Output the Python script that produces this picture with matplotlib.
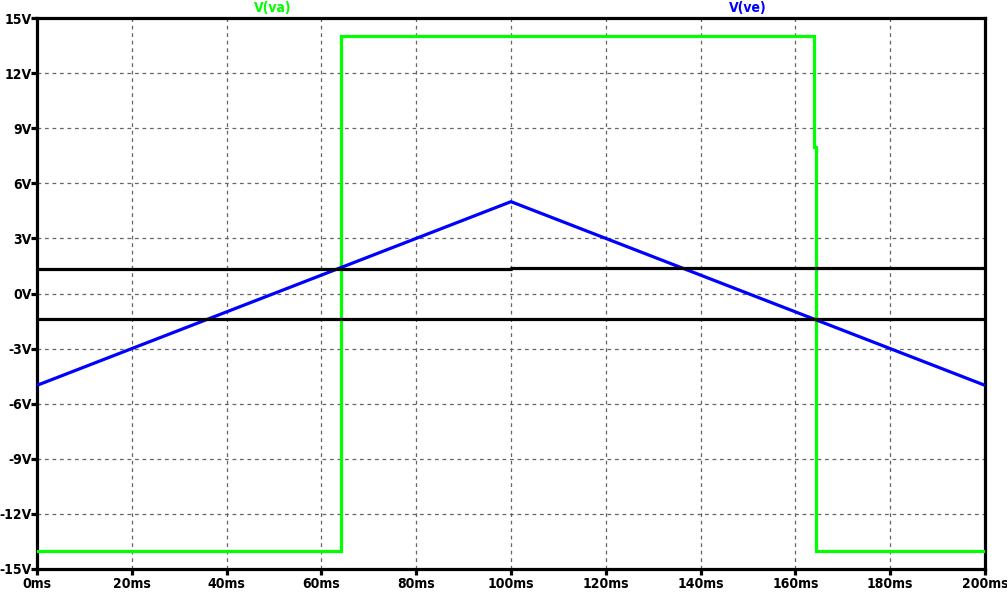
import matplotlib
matplotlib.use("Agg")
import matplotlib.pyplot as plt

# time in ms, voltages in V
va_t = [0, 64.1, 64.1, 164.0, 164.0, 164.3, 164.3, 200]
va_v = [-14, -14, 14, 14, 8, 8, -14, -14]

ve_t = [0, 100, 200]
ve_v = [-5, 5, -5]

thr_hi_t = [0, 100, 100, 200]
thr_hi_v = [1.33, 1.33, 1.39, 1.39]
thr_lo_t = [0, 200]
thr_lo_v = [-1.41, -1.41]

xticks = list(range(0, 201, 20))
yticks = list(range(-15, 16, 3))

# LTspice-ish narrow bold font
font = dict(family=["Liberation Sans Narrow", "DejaVu Sans"], stretch="condensed",
            weight="bold", size=10)

W, H = 1007, 595
fig = plt.figure(figsize=(W / 100, H / 100), dpi=100)
ax = fig.add_axes([37 / W, 26 / H, 948 / W, 551 / H])

ax.plot(va_t, va_v, color="#00ff00", lw=2.3, solid_joinstyle="miter", zorder=3)
ax.plot(ve_t, ve_v, color="#0000ff", lw=2.3, zorder=3)
ax.plot(thr_hi_t, thr_hi_v, color="black", lw=2.3, zorder=3)
ax.plot(thr_lo_t, thr_lo_v, color="black", lw=2.3, zorder=3)

ax.set_xlim(0, 200)
ax.set_ylim(-15, 15)
ax.set_xticks(xticks)
ax.set_yticks(yticks)
ax.set_xticklabels(["%dms" % t for t in xticks], fontdict=font)
ax.set_yticklabels(["%dV" % v for v in yticks], fontdict=font)

ax.grid(True, color="#666666", linestyle=(0, (3, 3)), lw=0.9)
for s in ax.spines.values():
    s.set_linewidth(2.3)
ax.tick_params(axis="y", direction="out", length=4, width=2.3, pad=0)
ax.tick_params(axis="x", direction="out", length=4, width=2.3, pad=2)

fig.text(273 / W, 1 - 8 / H, "V(va)", color="#00ff00", ha="center", va="center", **font)
fig.text(748 / W, 1 - 8 / H, "V(ve)", color="#0000ff", ha="center", va="center", **font)

fig.savefig("out.png", dpi=100, facecolor="white")
